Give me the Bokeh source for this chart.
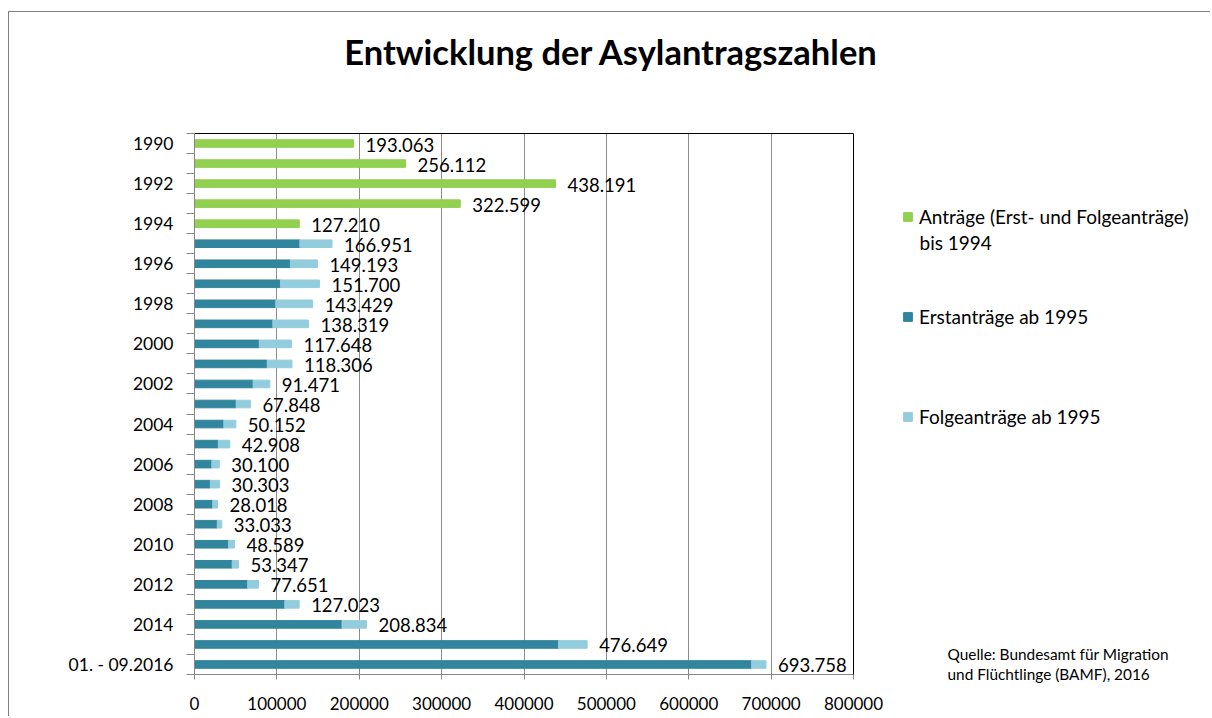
from bokeh.plotting import figure
from bokeh.models import (ColumnDataSource, Range1d, FixedTicker, LabelSet, Label,
                          Legend, LegendItem, NumeralTickFormatter, LinearAxis)
from bokeh.core.properties import value
from bokeh.embed import file_html
from bokeh.resources import INLINE

# ---------------- data ----------------
years = ["1990", "1991", "1992", "1993", "1994", "1995", "1996", "1997", "1998", "1999",
         "2000", "2001", "2002", "2003", "2004", "2005", "2006", "2007", "2008", "2009",
         "2010", "2011", "2012", "2013", "2014", "2015", "01. - 09.2016"]
antraege_bis_1994 = [193063, 256112, 438191, 322599, 127210]
erstantraege = [127937, 116367, 104353, 98644, 95113, 78564, 88287, 71127, 50563, 35607,
                28914, 21029, 19164, 22085, 27649, 41332, 45741, 64539, 109580, 179072,
                441899, 676320]
folgeantraege = [39014, 32826, 47347, 44785, 43206, 39084, 30019, 20344, 17285, 14545,
                 13994, 9071, 11139, 5933, 5384, 7257, 7606, 13112, 17443, 29762,
                 34750, 17438]
x_ticks = [0, 100000, 200000, 300000, 400000, 500000, 600000, 700000, 800000]

title_text = "Entwicklung der Asylantragszahlen"
legend_labels = ["Anträge (Erst- und Folgeanträge)", "Erstanträge ab 1995",
                 "Folgeanträge ab 1995"]
legend_label_line2 = "bis 1994"
source_lines = ["Quelle: Bundesamt für Migration", "und Flüchtlinge (BAMF), 2016"]

GREEN = "#92D050"
TEAL = "#31859C"
LIGHT = "#93CDDD"
GRID = "#8c8c8c"
FONT = "Lato"

def fmt(v):
    return f"{v:,}".replace(",", ".")

n_green = len(antraege_bis_1994)
idx = list(range(len(years)))

green_src = ColumnDataSource(dict(
    y=idx[:n_green], val=antraege_bis_1994,
    label=[fmt(v) for v in antraege_bis_1994]))
totals = [e + f for e, f in zip(erstantraege, folgeantraege)]
blue_src = ColumnDataSource(dict(
    y=idx[n_green:], erst=erstantraege, folge=folgeantraege, total=totals,
    label=[fmt(v) for v in totals]))

# ---------------- layout geometry (canvas = frame) ----------------
W, H = 1202, 705
PL, PR = 185, 844          # plot-area left/right in canvas px
PT, PB = 121, 662          # plot-area top/bottom in canvas px
x0, x1 = x_ticks[0], x_ticks[-1]
xs = (x1 - x0) / (PR - PL)
y_top, y_bot = -0.5, len(years) - 0.5
ys = (y_bot - y_top) / (PB - PT)
x_range = Range1d(x0 - PL * xs, x0 + (W - PL) * xs)
y_range = Range1d(y_bot + (H - PB) * ys, y_top - PT * ys)

p = figure(width=W, height=H, output_backend="svg", toolbar_location=None, title=None,
           x_range=x_range, y_range=y_range, min_border=0)
p.background_fill_color = "white"
p.border_fill_color = "white"
p.outline_line_color = None
p.styles = {"margin-left": "8px", "margin-top": "11px",
            "border-top": "1px solid #7f7f7f", "border-left": "1px solid #7f7f7f"}

g = p.hbar(y="y", left=0, right="val", height=0.38, color=GREEN, source=green_src)
stack = p.hbar_stack(["erst", "folge"], y="y", height=0.38, color=[TEAL, LIGHT],
                     source=blue_src)

lab_style = dict(x_offset=12, y_offset=-1, text_baseline="middle", text_font=value(FONT),
                 text_font_size="18.5px", text_color="black")
p.add_layout(LabelSet(x="val", y="y", text="label", source=green_src, **lab_style))
p.add_layout(LabelSet(x="total", y="y", text="label", source=blue_src, **lab_style))

# axes
xa = p.xaxis[0]
xa.fixed_location = y_bot
xa.bounds = (x0, x1)
xa.ticker = FixedTicker(ticks=x_ticks)
xa.formatter = NumeralTickFormatter(format="0")
xa.axis_line_color = "#868686"
xa.major_tick_line_color = "#868686"
xa.major_tick_out = 5
xa.major_tick_in = 0
xa.minor_tick_line_color = None
xa.major_label_text_font = FONT
xa.major_label_text_font_size = "17px"
xa.major_label_text_color = "black"
xa.major_label_standoff = 17

ya = p.yaxis[0]
ya.fixed_location = x0
ya.bounds = (y_top, y_bot)
ya.ticker = FixedTicker(ticks=idx[::2], minor_ticks=[i - 0.5 for i in range(len(years) + 1)])
ya.major_label_overrides = {i: years[i] for i in idx[::2]}
ya.axis_line_color = "#868686"
ya.major_tick_line_color = None
ya.major_tick_out = 0
ya.major_tick_in = 0
ya.minor_tick_line_color = "#868686"
ya.minor_tick_out = 8
ya.minor_tick_in = 0
ya.major_label_text_font = FONT
ya.major_label_text_font_size = "17.5px"
ya.major_label_text_color = "black"
ya.major_label_standoff = 13

# plot-area border (top and right)
top_ax = LinearAxis(fixed_location=y_top, bounds=(x0, x1), ticker=FixedTicker(ticks=[]),
                    axis_line_color="black", major_tick_line_color=None,
                    minor_tick_line_color=None)
p.add_layout(top_ax, "above")
right_ax = LinearAxis(fixed_location=x1, bounds=(y_top, y_bot), ticker=FixedTicker(ticks=[]),
                      axis_line_color="black", major_tick_line_color=None,
                      minor_tick_line_color=None)
p.add_layout(right_ax, "right")

p.xgrid.ticker = FixedTicker(ticks=x_ticks[1:-1])
p.xgrid.grid_line_color = GRID
p.xgrid.grid_line_width = 1
p.xgrid.cross_bounds = (y_top, y_bot)
p.ygrid.grid_line_color = None

# title
p.add_layout(Label(x=602, y=H - 38.5, x_units="screen", y_units="screen", text=title_text,
                   text_align="center", text_baseline="middle", text_font=FONT,
                   text_font_style="bold", text_font_size="34.5px", text_color="black"))

# legends
leg_renderers = [g, stack[0], stack[1]]
leg_bottom = [H - 216, H - 316, H - 416]
for lbl, r, lb in zip(legend_labels, leg_renderers, leg_bottom):
    lg = Legend(items=[LegendItem(label=lbl, renderers=[r])], location=(893, lb),
                glyph_width=11, glyph_height=11, label_standoff=6, padding=0, margin=0,
                border_line_color=None, background_fill_alpha=0,
                label_text_font=FONT, label_text_font_size="19px", label_text_color="black")
    p.add_layout(lg, "center")
p.add_layout(Label(x=910, y=H - 230, x_units="screen", y_units="screen",
                   text=legend_label_line2, text_baseline="middle", text_font=FONT,
                   text_font_size="19px", text_color="black"))

# source note
for line, sy in zip(source_lines, [H - 641, H - 661]):
    p.add_layout(Label(x=938, y=sy, x_units="screen", y_units="screen", text=line,
                       text_baseline="middle", text_font=FONT, text_font_size="15.4px",
                       text_color="black"))

open("out.html", "w").write(file_html(p, INLINE))
